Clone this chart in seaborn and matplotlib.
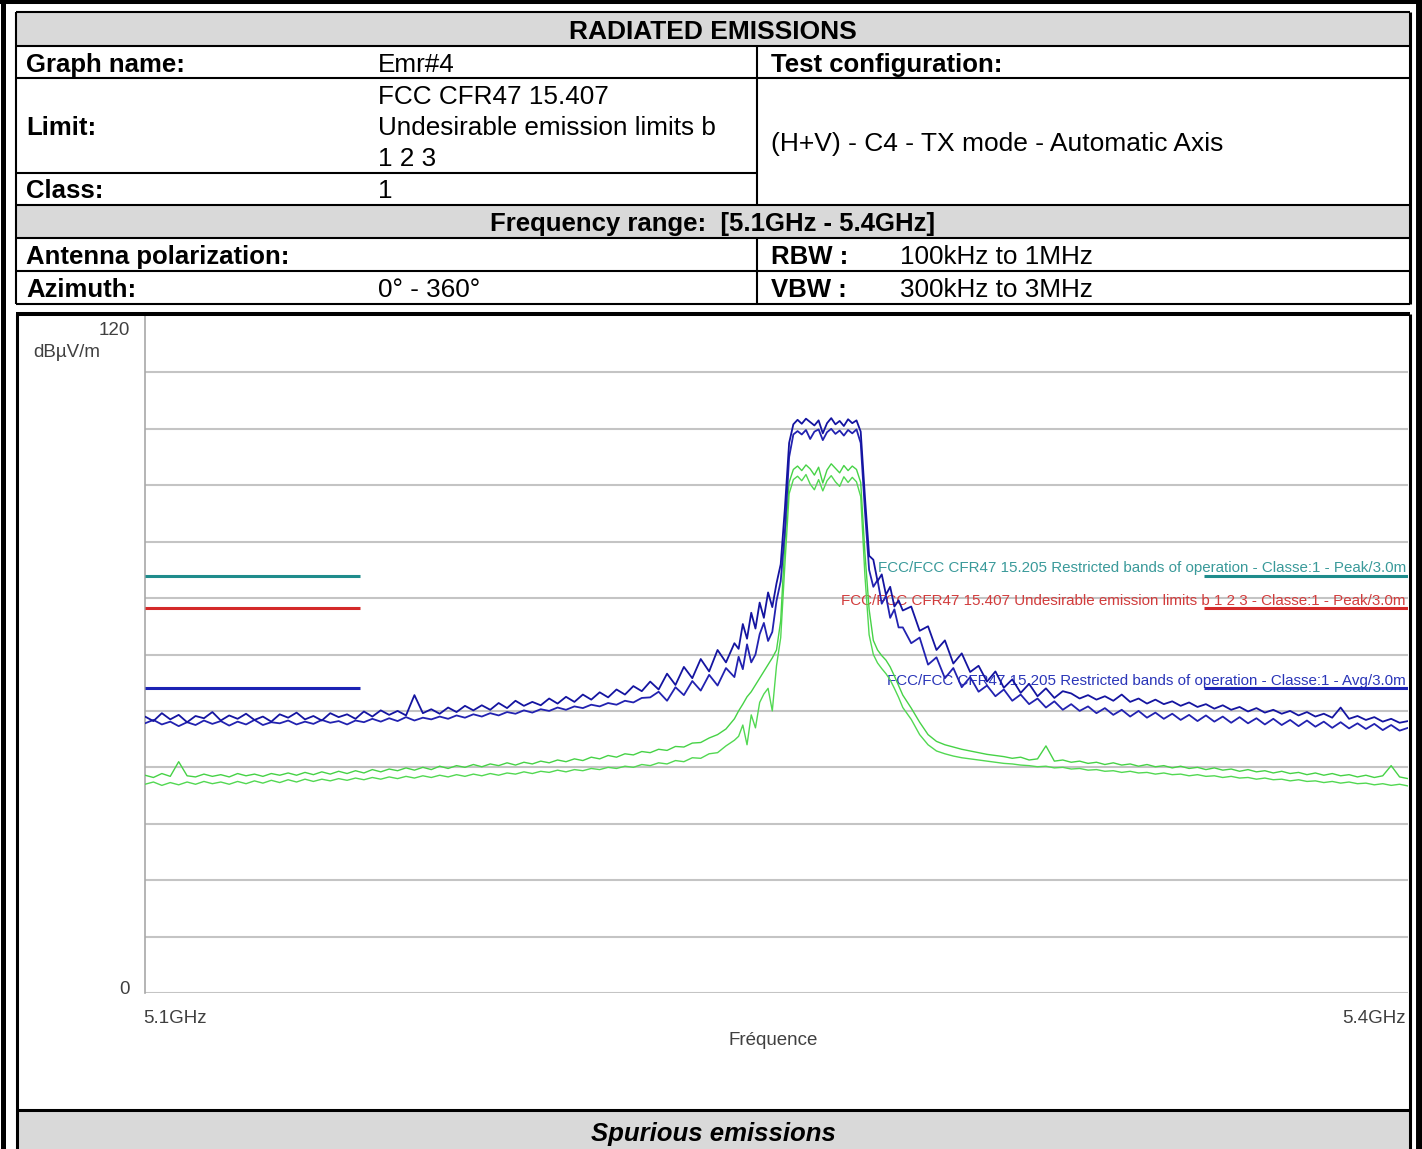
import numpy as np
import pandas as pd
import matplotlib
matplotlib.use("Agg")
import matplotlib.pyplot as plt
from matplotlib.lines import Line2D
from matplotlib.patches import Rectangle
import seaborn as sns

# Frequencies of the sweep (MHz)
freq_mhz = [
    5100, 5102, 5104, 5106, 5108, 5110, 5112, 5114, 5116, 5118,
    5120, 5122, 5124, 5126, 5128, 5130, 5132, 5134, 5136, 5138,
    5140, 5142, 5144, 5146, 5148, 5150, 5152, 5154, 5156, 5158,
    5160, 5162, 5164, 5166, 5168, 5170, 5172, 5174, 5176, 5178,
    5180, 5182, 5184, 5186, 5188, 5190, 5192, 5194, 5196, 5198,
    5200, 5202, 5204, 5206, 5208, 5210, 5212, 5214, 5216, 5218,
    5220, 5222, 5224, 5226, 5228, 5230, 5232, 5234, 5236, 5238,
    5240, 5241, 5242, 5243, 5244, 5245, 5246, 5247, 5248, 5249,
    5250, 5251, 5252, 5253, 5254, 5255, 5256, 5257, 5258, 5259,
    5260, 5261, 5262, 5263, 5264, 5265, 5266, 5267, 5268, 5269,
    5270, 5271, 5272, 5273, 5274, 5275, 5276, 5277, 5278, 5279,
    5280, 5282, 5284, 5286, 5288, 5290, 5292, 5294, 5296, 5298,
    5300, 5302, 5304, 5306, 5308, 5310, 5312, 5314, 5316, 5318,
    5320, 5322, 5324, 5326, 5328, 5330, 5332, 5334, 5336, 5338,
    5340, 5342, 5344, 5346, 5348, 5350, 5352, 5354, 5356, 5358,
    5360, 5362, 5364, 5366, 5368, 5370, 5372, 5374, 5376, 5378,
    5380, 5382, 5384, 5386, 5388, 5390, 5392, 5394, 5396, 5398,
    5400,
]

# Peak detector traces (dBuV/m)
peak_h = [
    49.0, 48.2, 49.6, 48.5, 49.3, 48.0, 49.1, 48.7, 49.8, 48.3,
    49.2, 48.6, 49.5, 48.4, 49.0, 48.1, 49.4, 48.8, 49.7, 48.5,
    49.1, 48.3, 49.6, 48.9, 49.4, 48.6, 49.9, 49.0, 50.1, 49.3,
    50.0, 49.2, 52.8, 49.6, 50.3, 49.5, 50.6, 49.8, 50.9, 50.1,
    51.0, 50.2, 51.4, 50.5, 51.8, 50.9, 51.6, 51.0, 52.2, 51.3,
    52.5, 51.6, 52.9, 52.0, 53.3, 52.4, 53.8, 52.9, 54.4, 53.5,
    55.2, 53.8, 56.6, 54.6, 57.8, 55.8, 59.2, 57.0, 60.8, 58.6,
    62.0, 61.0, 65.4, 62.8, 67.4, 64.6, 69.2, 66.5, 71.0, 68.4,
    72.6, 76.0, 86.0, 97.5, 100.8, 101.6, 100.9, 101.8, 101.2, 100.6,
    101.5, 99.2, 101.0, 101.9, 100.8, 101.4, 100.5, 101.7, 101.0, 101.5,
    99.5, 88.0, 77.5, 76.8, 73.0, 74.2, 70.6, 72.0, 68.5, 69.6,
    67.8, 68.5, 64.2, 65.0, 60.8, 62.5, 58.4, 60.2, 56.9, 58.0,
    55.2, 57.0, 54.1, 55.6, 53.2, 54.8, 52.6, 54.0, 52.3, 53.5,
    53.1, 52.2, 52.8, 52.0, 52.6, 51.8, 52.9, 51.6, 52.2, 51.3,
    52.0, 51.2, 51.7, 50.9, 51.5, 50.7, 51.2, 50.4, 51.0, 50.2,
    50.7, 49.9, 50.5, 49.7, 50.2, 49.5, 50.0, 49.2, 49.8, 49.0,
    49.5, 48.8, 50.6, 48.6, 49.1, 48.4, 48.9, 48.1, 48.6, 47.9,
    48.2,
]
peak_v = [
    47.8, 48.4, 47.6, 48.1, 47.3, 48.0, 47.5, 48.3, 47.7, 48.2,
    47.4, 48.1, 47.6, 48.4, 47.5, 48.0, 47.8, 48.3, 47.6, 48.1,
    47.7, 48.4, 47.9, 48.2, 47.6, 48.3, 48.0, 48.6, 48.1, 48.7,
    48.2, 48.9, 48.3, 48.8, 48.5, 49.0, 48.6, 49.2, 48.8, 49.4,
    49.0, 49.6, 49.2, 49.8, 49.5, 50.1, 49.7, 50.3, 50.0, 50.6,
    50.2, 50.8, 50.5, 51.1, 50.8, 51.4, 51.1, 51.8, 51.5, 52.3,
    52.4, 53.4, 51.8, 54.2, 52.8, 55.3, 53.6, 56.4, 54.5, 57.6,
    56.0, 59.6, 57.4, 61.8, 58.6, 60.0, 63.6, 65.6, 62.4, 64.0,
    69.5, 73.0, 82.0, 95.0, 99.0, 99.6, 99.0, 99.8, 98.2, 99.5,
    99.9, 98.0, 99.4, 100.0, 99.1, 99.7, 98.8, 99.8, 99.2, 99.9,
    97.5, 85.5, 75.0, 72.0, 73.2, 69.0, 70.4, 66.5, 68.0, 64.8,
    64.8, 62.0, 63.0, 58.2, 59.5, 55.8, 57.6, 54.2, 56.0, 53.4,
    54.5, 52.6, 53.8, 51.8, 52.9, 51.2, 52.2, 50.6, 51.7, 50.2,
    51.2, 50.0, 50.8, 49.6, 50.5, 49.3, 50.2, 49.0, 50.0, 48.8,
    49.7, 48.6, 49.5, 48.4, 49.3, 48.2, 49.2, 48.1, 49.0, 47.9,
    48.9, 47.8, 48.7, 47.6, 48.6, 47.5, 48.4, 47.3, 48.3, 47.2,
    48.1, 47.0, 48.0, 46.9, 47.8, 46.8, 47.7, 46.6, 47.5, 46.5,
    47.0,
]

# Average detector traces (dBuV/m)
avg_h = [
    38.6, 38.2, 38.9, 38.4, 41.0, 38.5, 38.3, 38.8, 38.4, 38.7,
    38.3, 38.9, 38.5, 38.8, 38.4, 38.9, 38.6, 39.0, 38.6, 39.1,
    38.7, 39.2, 38.8, 39.3, 38.9, 39.4, 39.0, 39.6, 39.2, 39.7,
    39.4, 39.9, 39.5, 40.0, 39.6, 40.2, 39.8, 40.3, 40.0, 40.5,
    40.1, 40.6, 40.3, 40.8, 40.4, 40.9, 40.6, 41.1, 40.8, 41.3,
    41.0, 41.5, 41.2, 41.8, 41.5, 42.1, 41.8, 42.4, 42.2, 42.8,
    42.6, 43.2, 43.0, 43.7, 43.6, 44.3, 44.4, 45.2, 45.8, 46.8,
    48.6, 50.0, 51.2, 52.5, 53.4, 54.6, 55.8, 57.0, 58.2, 59.4,
    60.8, 66.0, 80.0, 90.5, 92.8, 93.4, 92.6, 93.6, 92.9, 91.8,
    93.2, 90.4, 92.7, 93.8, 93.0, 92.2, 93.5, 92.6, 93.4, 92.8,
    90.5, 78.0, 68.0, 62.5, 60.8, 59.8, 59.0, 57.8, 56.2, 54.5,
    52.8, 50.5, 48.0, 45.8, 44.6, 44.0, 43.6, 43.2, 42.9, 42.6,
    42.3, 42.1, 41.9, 41.6, 41.8, 41.3, 41.5, 43.8, 41.1, 41.3,
    40.9, 41.1, 40.7, 40.9, 40.5, 40.8, 40.4, 40.6, 40.2, 40.5,
    40.1, 40.3, 39.9, 40.2, 39.8, 40.0, 39.6, 39.9, 39.5, 39.7,
    39.3, 39.6, 39.2, 39.4, 39.0, 39.3, 38.9, 39.1, 38.7, 39.0,
    38.6, 38.9, 38.5, 38.7, 38.3, 38.6, 38.2, 38.5, 40.3, 38.3,
    38.0,
]
avg_v = [
    37.0, 37.4, 36.8, 37.3, 36.9, 37.4, 37.0, 37.5, 37.1, 37.4,
    37.0, 37.5, 37.1, 37.6, 37.2, 37.7, 37.3, 37.8, 37.4, 37.9,
    37.5, 37.9, 37.6, 38.0, 37.7, 38.1, 37.8, 38.2, 37.9, 38.3,
    38.0, 38.4, 38.1, 38.5, 38.2, 38.6, 38.3, 38.7, 38.4, 38.8,
    38.5, 38.9, 38.6, 39.0, 38.8, 39.2, 38.9, 39.3, 39.1, 39.5,
    39.2, 39.6, 39.4, 39.8, 39.6, 40.0, 39.8, 40.2, 40.0, 40.5,
    40.3, 40.8, 40.6, 41.2, 41.0, 41.7, 41.6, 42.4, 42.6, 43.8,
    44.8, 45.5, 47.5, 44.0, 49.3, 47.0, 51.5, 53.0, 54.0, 50.0,
    58.0, 63.0, 76.0, 88.5, 91.0, 91.6, 90.8, 91.9, 90.2, 89.2,
    91.0, 89.0, 90.8, 91.7, 90.6, 89.8, 91.5, 90.5, 91.4, 90.6,
    88.0, 74.0, 63.5, 60.0, 58.5, 57.5, 56.6, 55.5, 54.0, 52.4,
    50.6, 48.5, 45.8, 44.0, 42.9, 42.4, 42.0, 41.7, 41.5, 41.3,
    41.1, 40.9, 40.7, 40.6, 40.4, 40.3, 40.1, 40.2, 39.9, 40.0,
    39.7, 39.8, 39.5, 39.6, 39.3, 39.4, 39.1, 39.3, 39.0, 39.1,
    38.8, 39.0, 38.7, 38.8, 38.5, 38.7, 38.4, 38.5, 38.2, 38.4,
    38.1, 38.2, 37.9, 38.1, 37.8, 37.9, 37.6, 37.8, 37.5, 37.6,
    37.3, 37.5, 37.2, 37.4, 37.1, 37.2, 36.9, 37.1, 36.8, 37.0,
    36.7,
]

# Limit lines
limit_labels = [
    "FCC/FCC CFR47 15.205 Restricted bands of operation - Classe:1 - Peak/3.0m",
    "FCC/FCC CFR47 15.407 Undesirable emission limits b 1 2 3 - Classe:1 - Peak/3.0m",
    "FCC/FCC CFR47 15.205 Restricted bands of operation - Classe:1 - Avg/3.0m",
]
limit_levels = [74.0, 68.2, 54.0]
limit_colors = ["#1f8c8c", "#d42a2a", "#1c22b4"]
limit_text_colors = ["#3a9a9a", "#d23c3c", "#2a35b8"]
limit_bands = [(5100, 5151), (5351.5, 5400)]

df = pd.DataFrame({
    "freq": freq_mhz * 4,
    "level": peak_h + peak_v + avg_h + avg_v,
    "trace": ["peak_h"] * len(freq_mhz) + ["peak_v"] * len(freq_mhz)
             + ["avg_h"] * len(freq_mhz) + ["avg_v"] * len(freq_mhz),
})
trace_colors = {"peak_h": "#1414a0", "peak_v": "#2222b0",
                "avg_h": "#46d246", "avg_v": "#52d852"}
trace_widths = {"peak_h": 1.3, "peak_v": 1.3, "avg_h": 1.0, "avg_v": 1.0}

sns.set_style("white")
plt.rcParams["font.family"] = ["Liberation Sans", "DejaVu Sans"]

W, H = 1422, 1149
fig = plt.figure(figsize=(W / 100, H / 100), dpi=100)


def fx(x):
    return x / W


def fy(y):
    return 1 - y / H


def hline(y, x0, x1, lw=1.5):
    fig.add_artist(Line2D([fx(x0), fx(x1)], [fy(y), fy(y)], color="black",
                          lw=lw, transform=fig.transFigure, solid_capstyle="butt"))


def vline(x, y0, y1, lw=1.5):
    fig.add_artist(Line2D([fx(x), fx(x)], [fy(y0), fy(y1)], color="black",
                          lw=lw, transform=fig.transFigure, solid_capstyle="butt"))


def band(y0, y1, x0=16, x1=1410, color="#d9d9d9"):
    fig.add_artist(Rectangle((fx(x0), fy(y1)), fx(x1) - fx(x0), fy(y0) - fy(y1),
                             facecolor=color, edgecolor="none",
                             transform=fig.transFigure, zorder=0))


def txt(x, y, s, size=18.5, bold=False, ha="left", **kw):
    # matplotlib's "center" sits ~2px higher than the scanned text
    fig.text(fx(x), fy(y + 2), s, fontsize=size, ha=ha, va="center",
             fontweight="bold" if bold else "normal", color="black", **kw)


# outer frame
vline(2.5, 0, 1149, lw=3.6)
hline(2, 0, 1422, lw=2.9)
vline(1418.5, 0, 1149, lw=5)

# gray header rows
band(12, 46)
band(205, 238)
band(1111, 1149)

# table lines
for y in [12, 46, 78, 205, 238, 271, 304]:
    hline(y, 16, 1410)
hline(173, 16, 757)
vline(16, 12, 304)
vline(1409.5, 12, 304, lw=2.2)
vline(757, 46, 205)
vline(757, 238, 304)

# chart box
hline(314, 16, 1410, lw=2.9)
vline(17, 314, 1149, lw=2.2)
vline(1409.5, 314, 1149, lw=2.2)
hline(1110, 16, 1410, lw=2.2)

# table text
txt(713, 30, "RADIATED EMISSIONS", bold=True, ha="center", size=19)
txt(26, 63, "Graph name:", bold=True)
txt(378, 63, "Emr#4", size=18.8)
txt(771, 63, "Test configuration:", bold=True)
txt(26, 126, "Limit:", bold=True)
txt(378, 95, "FCC CFR47 15.407", size=18.8)
txt(378, 126, "Undesirable emission limits b", size=18.8)
txt(378, 157, "1 2 3", size=18.8)
txt(771, 142, "(H+V) - C4 - TX mode - Automatic Axis", size=19)
txt(26, 189, "Class:", bold=True)
txt(378, 189, "1", size=18.8)
txt(713, 222, "Frequency range:  [5.1GHz - 5.4GHz]", bold=True, ha="center")
txt(26, 255, "Antenna polarization:", bold=True)
txt(771, 255, "RBW :", bold=True)
txt(900, 255, "100kHz to 1MHz", size=18.8)
txt(26, 288, "Azimuth:", bold=True)
txt(378, 288, "0° - 360°", size=18.8)
txt(771, 288, "VBW :", bold=True)
txt(900, 288, "300kHz to 3MHz", size=18.8)
txt(713, 1132, "Spurious emissions", bold=True, ha="center", style="italic")

# spectrum axes
ax = fig.add_axes([fx(145), fy(993), fx(1408) - fx(145), fy(316) - fy(993)])
ax.set_xlim(5100, 5400)
ax.set_ylim(0, 120)
ax.set_yticks(np.arange(0, 111, 10))
ax.set_xticks([])
ax.tick_params(left=False, labelleft=False)
ax.yaxis.grid(True, color="#c4c4c4", lw=1.5)
ax.set_axisbelow(True)
for side in ["top", "right", "bottom"]:
    ax.spines[side].set_visible(False)
ax.spines["left"].set_color("#a8a8a8")
ax.spines["left"].set_linewidth(1.2)

for lvl, col, tcol, lab in zip(limit_levels, limit_colors, limit_text_colors, limit_labels):
    for lo, hi in limit_bands:
        ax.plot([lo, hi], [lvl, lvl], color=col, lw=2.2, solid_capstyle="butt", zorder=3)
    ax.text(5399.5, lvl + 0.1, lab, ha="right", va="bottom", color=tcol,
            fontsize=10.9, zorder=2)

for name in ["avg_v", "avg_h", "peak_v", "peak_h"]:
    sub = df[df["trace"] == name]
    sns.lineplot(data=sub, x="freq", y="level", color=trace_colors[name],
                 lw=trace_widths[name], estimator=None, ax=ax, zorder=4)
ax.set_xlabel("")
ax.set_ylabel("")

gray = "#404040"
fig.text(fx(130), fy(330.5), "120", ha="right", va="center", fontsize=13.5, color=gray)
fig.text(fx(33), fy(352.5), "dBµV/m", ha="left", va="center", fontsize=13.5, color=gray)
fig.text(fx(130), fy(989.5), "0", ha="right", va="center", fontsize=13.5, color=gray)
fig.text(fx(143), fy(1018.5), "5.1GHz", ha="left", va="center", fontsize=13.5, color=gray)
fig.text(fx(1406), fy(1018.5), "5.4GHz", ha="right", va="center", fontsize=13.5, color=gray)
fig.text(fx(773), fy(1040.5), "Fréquence", ha="center", va="center", fontsize=13.5, color=gray)

fig.savefig("out.png", dpi=100)
